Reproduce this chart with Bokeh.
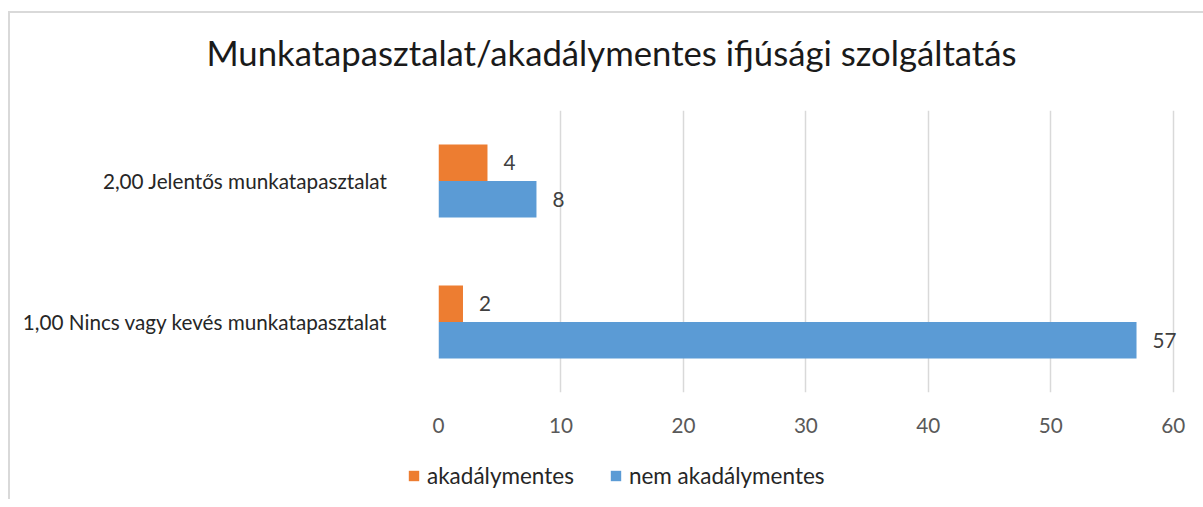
from bokeh.plotting import figure
from bokeh.layouts import column
from bokeh.models import FactorRange, Legend, LegendItem, FixedTicker, ColumnDataSource, Label
from bokeh.transform import dodge
from bokeh.core.properties import value
from bokeh.embed import file_html
from bokeh.resources import INLINE

# ---- data ----
title_text = "Munkatapasztalat/akadálymentes ifjúsági szolgáltatás"
categories = ["1,00 Nincs vagy kevés munkatapasztalat", "2,00 Jelentős munkatapasztalat"]
series_names = ["akadálymentes", "nem akadálymentes"]
akadalymentes = [2, 4]
nem_akadalymentes = [57, 8]
x_ticks = [0, 10, 20, 30, 40, 50, 60]

# ---- style ----
FONT = "Lato"
FS = "20.7px"
ORANGE = "#ED7D31"
BLUE = "#5B9BD5"
GRID = "#D9D9D9"

W, HT, H, HL = 1193, 80, 360, 46
FL, FR, FT, FB = 428, 18, 17, 61


def strip(height):
    f = figure(width=W, height=height, x_range=(0, 1), y_range=(0, 1),
               x_axis_type=None, y_axis_type=None, output_backend="svg", toolbar_location=None,
               min_border_left=0, min_border_right=0, min_border_top=0, min_border_bottom=0)
    f.frame_align = False
    f.outline_line_color = None
    f.grid.visible = False
    return f


src = ColumnDataSource(dict(
    cat=categories,
    a=akadalymentes,
    b=nem_akadalymentes,
    a_lbl=[str(v) for v in akadalymentes],
    b_lbl=[str(v) for v in nem_akadalymentes],
))

# title strip
hd = strip(HT)
hd.add_layout(Label(x=601, y=41, x_units="screen", y_units="screen", text=title_text,
                    text_align="center", text_baseline="alphabetic",
                    text_font=FONT, text_font_size="34.7px", text_color="#1a1a1a"))

p = figure(width=W, height=H, y_range=FactorRange(factors=categories), x_range=(0, 61),
           output_backend="svg", toolbar_location=None,
           min_border_left=FL, min_border_right=FR, min_border_top=FT, min_border_bottom=FB)
p.outline_line_color = None
p.background_fill_color = "white"
p.border_fill_color = "white"
p.frame_align = False

BH = 0.259
off = BH / 2
r_a = p.hbar(y=dodge("cat", off, range=p.y_range), right="a", left=0, height=BH,
             source=src, fill_color=ORANGE, line_color=None)
r_b = p.hbar(y=dodge("cat", -off, range=p.y_range), right="b", left=0, height=BH,
             source=src, fill_color=BLUE, line_color=None)

for col, lbl, o in (("a", "a_lbl", off), ("b", "b_lbl", -off)):
    p.text(x=col, y=dodge("cat", o, range=p.y_range), text=lbl, source=src,
           x_offset=16, text_align="left", text_baseline="middle",
           text_font=value(FONT), text_font_size=FS, text_color="#404040")

p.xgrid.grid_line_color = GRID
p.xgrid.grid_line_width = 1.5
p.ygrid.grid_line_color = None

xa = p.xaxis[0]
xa.ticker = FixedTicker(ticks=x_ticks)
xa.axis_line_color = None
xa.major_tick_line_color = None
xa.minor_tick_line_color = None
xa.major_label_standoff = 19
xa.major_label_text_font = FONT
xa.major_label_text_font_size = FS
xa.major_label_text_color = "#595959"

ya = p.yaxis[0]
ya.axis_line_color = None
ya.major_tick_line_color = None
ya.minor_tick_line_color = None
ya.major_label_standoff = 45
ya.major_label_text_font = FONT
ya.major_label_text_font_size = FS
ya.major_label_text_color = "#262626"

# legend strip (separate canvas so the legend is not clipped by the plot frame)
lg = strip(HL)
# legend proxies: zero-width bars from the same data, lying outside this strip's view
la = lg.hbar(y="a", right="a", left="a", height=0, source=src, fill_color=ORANGE, line_color=None)
lb = lg.hbar(y="b", right="b", left="b", height=0, source=src, fill_color=BLUE, line_color=None)
legend = Legend(items=[LegendItem(label=series_names[0], renderers=[la]),
                       LegendItem(label=series_names[1], renderers=[lb])],
                location=(397, 10), orientation="horizontal",
                glyph_width=13, glyph_height=13, label_standoff=7, spacing=35,
                padding=0, margin=0, border_line_color=None, background_fill_alpha=0,
                label_text_font=FONT, label_text_font_size="22.5px", label_text_color="#262626")
lg.add_layout(legend, "center")

layout = column(hd, p, lg, spacing=0)
layout.styles = {"border-left": "2px solid #d9d9d9", "border-top": "2px solid #d9d9d9",
                 "margin-top": "11px", "margin-left": "8px"}

open("out.html", "w").write(file_html(layout, INLINE))
